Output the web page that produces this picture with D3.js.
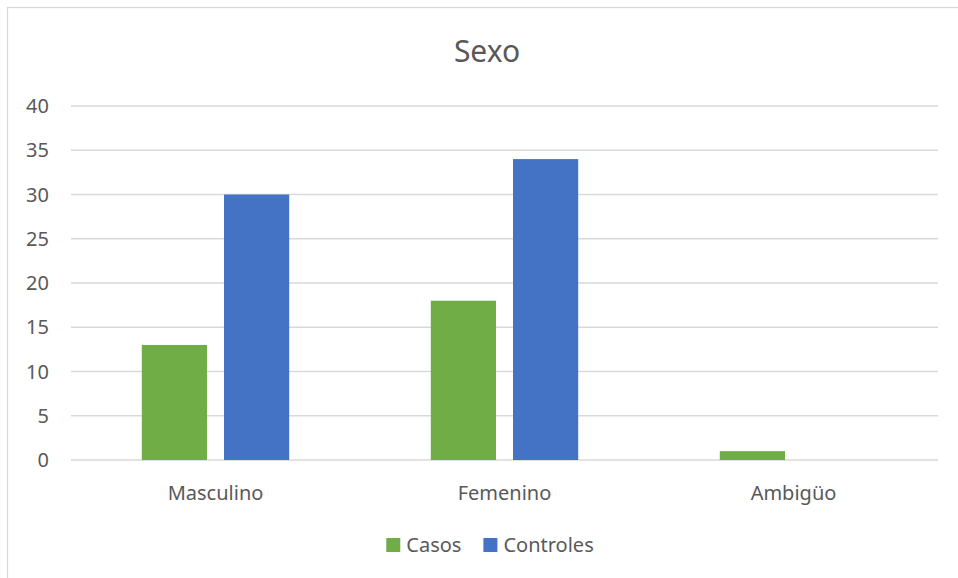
<!DOCTYPE html>
<html>
<head>
<meta charset="utf-8">
<script src="https://cdn.jsdelivr.net/npm/d3@7"></script>
<style>
  body { margin: 0; background: #fff; }
  svg { display: block; font-family: "Noto Sans", "Open Sans", sans-serif; }
</style>
</head>
<body>
<svg id="chart"></svg>
<script>
// Data
const categories = ["Masculino", "Femenino", "Ambigüo"];
const seriesNames = ["Casos", "Controles"];
const casos = [13, 18, 1];
const controles = [30, 34, 0];
const yTicks = [0, 5, 10, 15, 20, 25, 30, 35, 40];

const seriesValues = { Casos: casos, Controles: controles };
const colors = { Casos: "#70AD47", Controles: "#4472C4" };

const width = 958, height = 578;
const plot = { left: 71, right: 938, top: 106, bottom: 460 };

const svg = d3.select("#chart").attr("width", width).attr("height", height);

// Chart frame (only top and left edges are inside the picture)
svg.append("rect")
  .attr("x", 7.5).attr("y", 7.5)
  .attr("width", 1000).attr("height", 1000)
  .attr("fill", "#fff")
  .attr("stroke", "#D9D9D9")
  .attr("stroke-width", 1.3);

// Title
svg.append("text")
  .attr("x", 487).attr("y", 62)
  .attr("text-anchor", "middle")
  .style("font-size", "30px")
  .style("fill", "#595959")
  .text("Sexo");

// Scales
const x0 = d3.scaleBand().domain(categories).range([plot.left, plot.right]);
const groupWidth = x0.bandwidth() * 0.51;
const x1 = d3.scaleBand().domain(seriesNames).range([0, groupWidth]).paddingInner(0.207);
const y = d3.scaleLinear().domain([0, 40]).range([plot.bottom, plot.top]);

// Gridlines
svg.append("g")
  .selectAll("line")
  .data(yTicks)
  .join("line")
  .attr("x1", plot.left).attr("x2", plot.right)
  .attr("y1", d => y(d)).attr("y2", d => y(d))
  .attr("stroke", "#D9D9D9")
  .attr("stroke-width", 1.3);

// Y axis labels
svg.append("g")
  .selectAll("text")
  .data(yTicks)
  .join("text")
  .attr("x", 49)
  .attr("y", d => y(d))
  .attr("dy", "0.36em")
  .attr("text-anchor", "end")
  .style("font-size", "20px")
  .style("fill", "#595959")
  .text(d => d);

// Bars
const groups = svg.append("g")
  .selectAll("g")
  .data(categories)
  .join("g")
  .attr("transform", d => `translate(${x0(d) + (x0.bandwidth() - groupWidth) / 2},0)`);

groups.selectAll("rect")
  .data((c, i) => seriesNames.map(s => ({ series: s, value: seriesValues[s][i] })))
  .join("rect")
  .attr("x", d => x1(d.series))
  .attr("width", x1.bandwidth())
  .attr("y", d => y(d.value))
  .attr("height", d => y(0) - y(d.value))
  .attr("fill", d => colors[d.series]);

// Category labels
svg.append("g")
  .selectAll("text")
  .data(categories)
  .join("text")
  .attr("x", d => x0(d) + x0.bandwidth() / 2)
  .attr("y", 500)
  .attr("text-anchor", "middle")
  .style("font-size", "20px")
  .style("fill", "#595959")
  .text(d => d);

// Legend
const legend = svg.append("g");
let cursor = 0;
seriesNames.forEach((s, i) => {
  const item = legend.append("g").attr("transform", `translate(${cursor},0)`);
  item.append("rect")
    .attr("x", 0).attr("y", 538)
    .attr("width", 14).attr("height", 14)
    .attr("fill", colors[s]);
  const t = item.append("text")
    .attr("x", 20).attr("y", 552)
    .style("font-size", "20px")
    .style("fill", "#595959")
    .text(s);
  cursor += 20 + t.node().getComputedTextLength() + 22;
});
const legendWidth = cursor - 22;
legend.attr("transform", `translate(${490 - legendWidth / 2},0)`);
</script>
</body>
</html>
